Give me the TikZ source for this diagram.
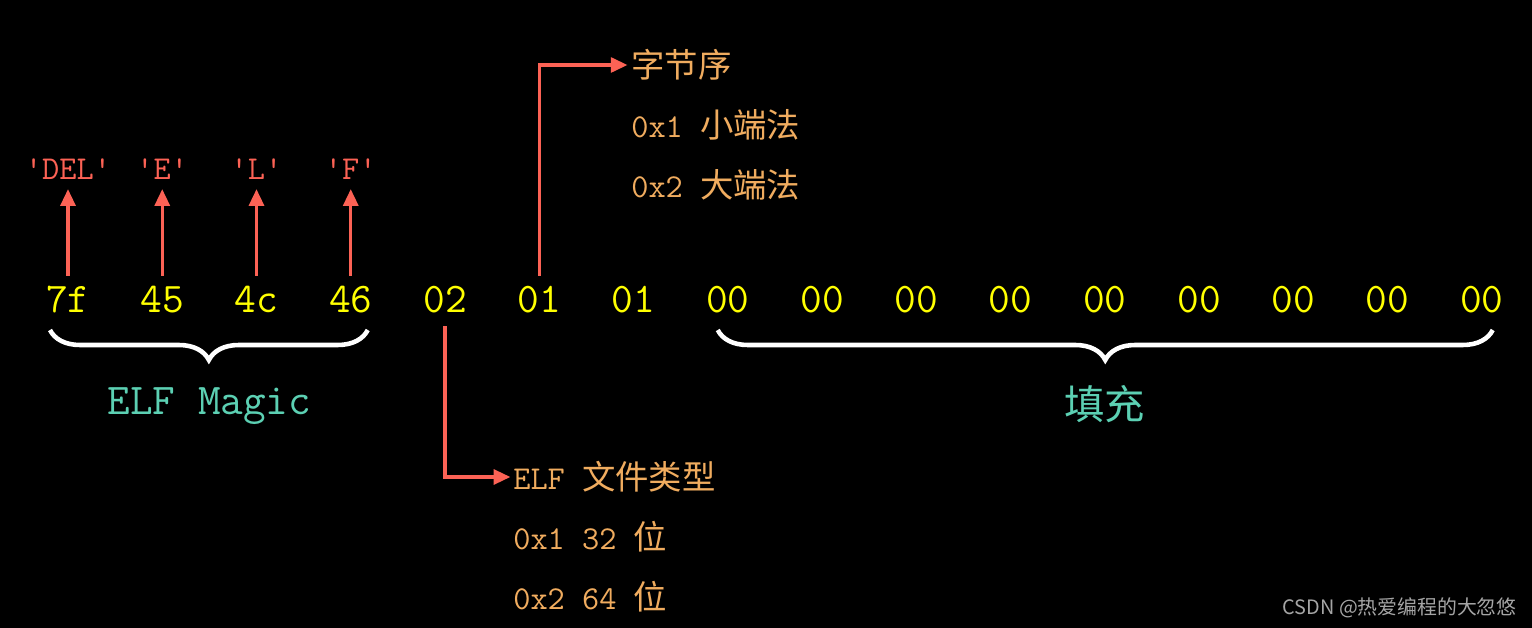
\documentclass[tikz,border=0pt]{standalone}
\usepackage{fontspec}
\newfontfamily\cjk{Noto Sans CJK SC}
\usetikzlibrary{arrows.meta,positioning,calc,decorations.pathreplacing}
\definecolor{bytey}{RGB}{255,255,0}
\definecolor{ptrred}{RGB}{252,98,85}
\definecolor{tealtxt}{RGB}{92,208,179}
\definecolor{goldtxt}{RGB}{240,172,95}
\definecolor{wmgray}{RGB}{165,165,165}

\begin{document}
\begin{tikzpicture}[x=0.02cm,y=0.02cm,
  byte/.style={text=bytey,font=\ttfamily\fontsize{24}{24}\selectfont,inner sep=0pt,anchor=base},
  chr/.style={text=ptrred,font=\ttfamily\fontsize{19}{19}\selectfont,inner sep=0pt,anchor=base},
  note/.style={text=goldtxt,font=\ttfamily\fontsize{19}{19}\selectfont,inner sep=0pt},
  grp/.style={text=tealtxt,inner sep=0pt},
  ptr/.style={-{Triangle[length=9.5pt,width=8.5pt]},line width=1.8pt,ptrred},
  brc/.style={decorate,decoration={brace,mirror,amplitude=0.6cm},white,line width=2.6pt}]
\fill[black] (0,0) rectangle (1532,-628);
% header bytes
\foreach \v [count=\i] in {7f,45,4c,46,02,01,01,00,00,00,00,00,00,00,00,00}
  \node[byte] (b\i) at ({68+(\i-1)*94.25},-313) {\v};
% magic characters
\foreach \c [count=\i] in {DEL,E,L,F}
  \node[chr] (c\i) at ({68+(\i-1)*94.25},-180) {\textquotesingle\c\textquotesingle};
\foreach \i in {1,...,4}
  \draw[ptr,shorten <=6pt,shorten >=5pt] (b\i) -- (c\i);
% byte order and file class
\node[note,anchor=west] (ord) at (631,-65) {{\cjk 字节序}};
\node[note,below=1.2cm of ord.west,anchor=west] (le) {0x1 {\cjk 小端法}};
\node[note,below=1.2cm of le.west,anchor=west] (be) {0x2 {\cjk 大端法}};
\node[note,anchor=west] (typ) at (513,-477) {ELF {\cjk 文件类型}};
\node[note,below=1.2cm of typ.west,anchor=west] (c32) {0x1 32 {\cjk 位}};
\node[note,below=1.2cm of c32.west,anchor=west] (c64) {0x2 64 {\cjk 位}};
\draw[ptr,shorten <=6pt,shorten >=2pt] (b6.north) |- (ord.west);
\draw[ptr,shorten <=7pt,shorten >=1.5pt] (b5.south) |- (typ.west);
% braces
\draw[brc] ($(b1.base)+(-18,-17)$) -- ($(b4.base)+(17,-17)$);
\draw[brc] ($(b8.base)+(-10,-17)$) -- ($(b16.base)+(11,-17)$);
\coordinate (t1) at ($(b1.base)!0.5!(b4.base)+(0,-47)$);
\coordinate (t2) at ($(b8.base)!0.5!(b16.base)+(0,-47)$);
\node[grp,font=\ttfamily\fontsize{25}{25}\selectfont,below=0.55cm of t1] (mg) {ELF Magic};
\node[grp,font=\cjk\fontsize{23}{23}\selectfont,below=0.5cm of t2] (pad) {填充};
\node[text=wmgray,font=\cjk\fontsize{11.3}{11.3}\selectfont,anchor=base east,inner sep=0pt] (wm) at (1517,-614) {CSDN @热爱编程的大忽悠};
\end{tikzpicture}
\end{document}
